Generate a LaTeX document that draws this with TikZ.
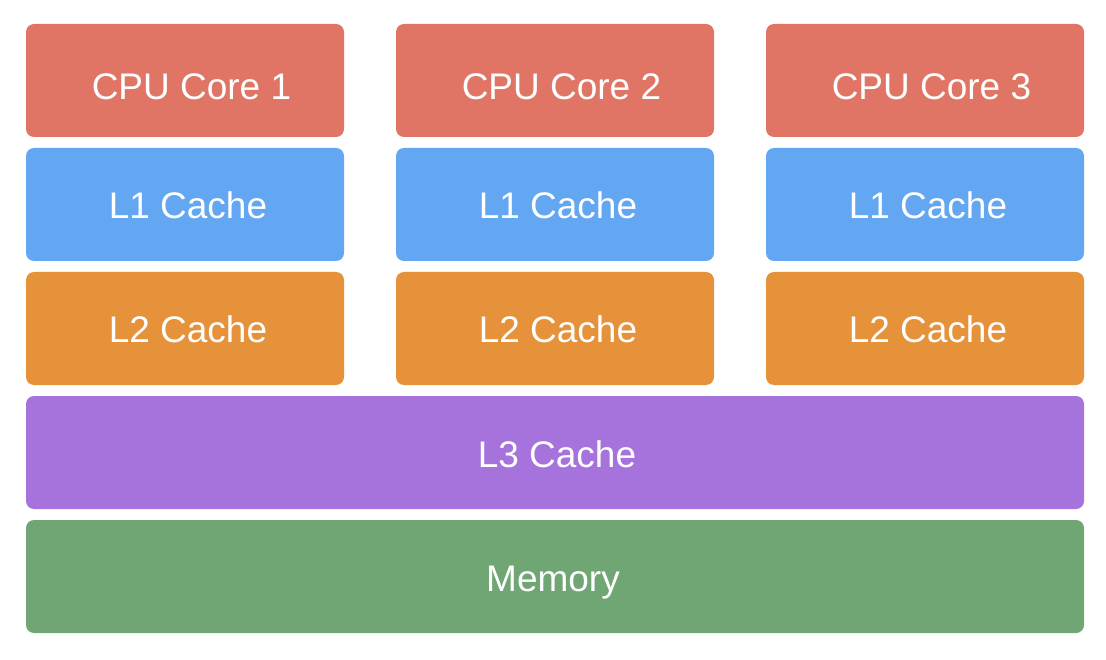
\documentclass[tikz,border=0pt]{standalone}
\usepackage{fontspec}
\setmainfont{Liberation Sans}
\definecolor{cpucol}{HTML}{E07565}
\definecolor{lonecol}{HTML}{63A7F2}
\definecolor{ltwocol}{HTML}{E6923A}
\definecolor{lthreecol}{HTML}{A673DC}
\definecolor{memcol}{HTML}{70A673}
\tikzset{
  blk/.style={rounded corners=8pt, draw=none},
  lbl/.style={text=white, font=\fontsize{37}{41}\selectfont, anchor=base, inner sep=0pt}
}
\begin{document}
\begin{tikzpicture}[x=1pt,y=-1pt]
\useasboundingbox (0,0) rectangle (1106,660);
\foreach \i/\xa in {1/26,2/396,3/766}{
  \pgfmathsetmacro{\xb}{\xa+318}
  \pgfmathsetmacro{\xc}{\xa+159}
  \fill[blk,cpucol] (\xa,24) rectangle (\xb,137);
  \node[lbl] (cpu\i) at (\xc+6.5,99.5) {CPU Core \i};
  \fill[blk,lonecol] (\xa,148) rectangle (\xb,261);
  \node[lbl] (lone\i) at (\xc+3,219) {L1 Cache};
  \fill[blk,ltwocol] (\xa,272) rectangle (\xb,385);
  \node[lbl] (ltwo\i) at (\xc+3,343) {L2 Cache};
}
\fill[blk,lthreecol] (26,396) rectangle (1084,509);
\node[lbl] (lthree) at (557,467) {L3 Cache};
\fill[blk,memcol] (26,520) rectangle (1084,633);
\node[lbl] (mem) at (553,591) {Memory};
\end{tikzpicture}
\end{document}
